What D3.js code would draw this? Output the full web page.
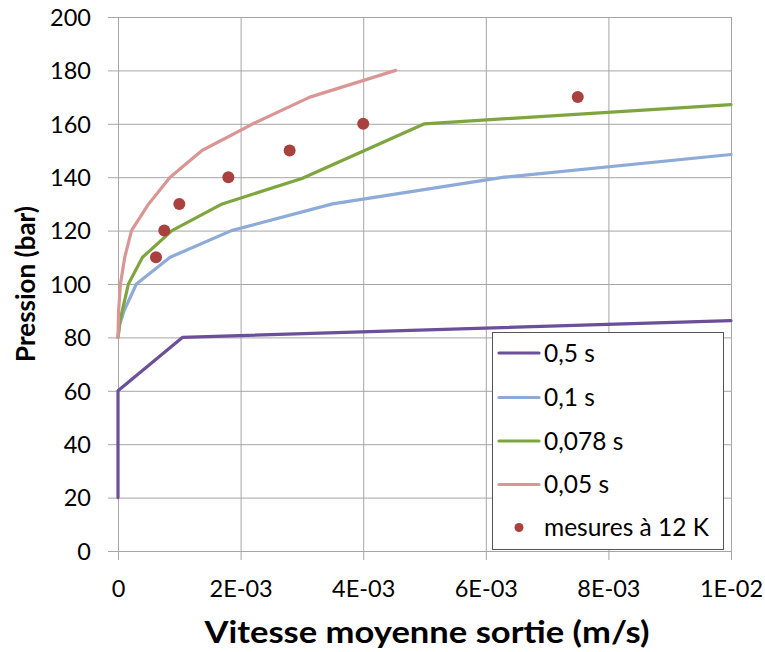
<!DOCTYPE html>
<html>
<head>
<meta charset="utf-8">
<script src="https://cdn.jsdelivr.net/npm/d3@7/dist/d3.min.js"></script>
<style>
  html, body { margin: 0; padding: 0; background: #fff; }
  svg { display: block; font-family: Lato, "Open Sans", sans-serif; }
</style>
</head>
<body>
<svg id="chart" width="765" height="652"></svg>
<script>
// ---- data ----
const seriesNames = ["0,5 s", "0,1 s", "0,078 s", "0,05 s"];
const seriesColors = ["#6c4f99", "#8eaad8", "#7ea53e", "#d99694"];

const s05x = [0, 0, 0.00105, 0.01];
const s05y = [20, 60, 80, 86.3];

const s01x = [0, 0.00003, 0.0001, 0.0003, 0.00085, 0.00185, 0.0035, 0.0063, 0.01];
const s01y = [80, 85, 90, 100, 110, 120, 130, 140, 148.5];

const s078x = [0, 0.00003, 0.00007, 0.00017, 0.0004, 0.00088, 0.0017, 0.003, 0.005, 0.01];
const s078y = [80, 86, 90, 100, 110, 120, 130, 139.5, 160, 167.2];

const s005x = [0, 0.00001, 0.00004, 0.00011, 0.00022, 0.0005, 0.00085, 0.00137, 0.0022, 0.00313, 0.00453];
const s005y = [80, 90, 100, 110, 120, 130, 140, 150, 160, 170, 180];

const mesX = [0.00062, 0.000755, 0.001, 0.0018, 0.0028, 0.004, 0.0075];
const mesY = [110, 120, 130, 140, 150, 160, 170];
const mesName = "mesures à 12 K";
const mesColor = "#a9423e";

const xTickValues = [0, 0.002, 0.004, 0.006, 0.008, 0.01];
const xTickLabels = ["0", "2E-03", "4E-03", "6E-03", "8E-03", "1E-02"];
const yTickValues = [0, 20, 40, 60, 80, 100, 120, 140, 160, 180, 200];

const xTitle = "Vitesse moyenne sortie (m/s)";
const yTitle = "Pression (bar)";

// ---- layout ----
const svg = d3.select("#chart");
const plot = { left: 118, right: 731, top: 17, bottom: 551 };
const x = d3.scaleLinear().domain([0, 0.01]).range([plot.left, plot.right]);
const y = d3.scaleLinear().domain([0, 200]).range([plot.bottom, plot.top]);
const gridColor = "#a6a6a6";

const xAxis = d3.axisBottom(x).tickValues(xTickValues)
  .tickFormat((d, i) => xTickLabels[i]).tickSizeInner(-(plot.bottom - plot.top)).tickSizeOuter(0).tickPadding(0);
const yAxis = d3.axisLeft(y).tickValues(yTickValues)
  .tickSizeInner(-(plot.right - plot.left)).tickSizeOuter(0).tickPadding(0);

const gx = svg.append("g").attr("transform", `translate(0,${plot.bottom})`).call(xAxis);
gx.select(".domain").remove();
gx.selectAll(".tick line").attr("stroke", gridColor).attr("y2", -(plot.bottom - plot.top)).attr("y1", 9);
gx.selectAll(".tick text").attr("y", 46).attr("dy", 0)
  .attr("fill", "#000").attr("font-size", 23.5).attr("font-family", "Lato, sans-serif");

const gy = svg.append("g").attr("transform", `translate(${plot.left},0)`).call(yAxis);
gy.select(".domain").remove();
gy.selectAll(".tick line").attr("stroke", gridColor).attr("x1", -10).attr("x2", plot.right - plot.left);
gy.selectAll(".tick text").attr("x", -27).attr("dy", "0.35em")
  .attr("fill", "#000").attr("font-size", 23.5).attr("font-family", "Lato, sans-serif");

// ---- series ----
const series = [
  { xs: s05x, ys: s05y },
  { xs: s01x, ys: s01y },
  { xs: s078x, ys: s078y },
  { xs: s005x, ys: s005y }
];
const line = d3.line().x(d => x(d[0])).y(d => y(d[1]));
series.forEach((s, i) => {
  const pts = s.xs.map((v, j) => [v, s.ys[j]]);
  svg.append("path").datum(pts)
    .attr("d", line)
    .attr("fill", "none")
    .attr("stroke", seriesColors[i])
    .attr("stroke-width", 3.2)
    .attr("stroke-linejoin", "round")
    .attr("stroke-linecap", "round");
});

svg.append("g").selectAll("circle")
  .data(mesX.map((v, j) => [v, mesY[j]]))
  .join("circle")
  .attr("cx", d => x(d[0]))
  .attr("cy", d => y(d[1]))
  .attr("r", 6)
  .attr("fill", mesColor);

// ---- legend ----
const lg = svg.append("g");
lg.append("rect").attr("x", 492.5).attr("y", 332.5).attr("width", 231).attr("height", 217)
  .attr("fill", "#fff").attr("stroke", "#555").attr("stroke-width", 1);
const rowY = [353, 397.5, 441, 484.5, 527.5];
seriesNames.forEach((n, i) => {
  lg.append("line").attr("x1", 499).attr("x2", 539).attr("y1", rowY[i]).attr("y2", rowY[i])
    .attr("stroke", seriesColors[i]).attr("stroke-width", 3.2).attr("stroke-linecap", "round");
  lg.append("text").attr("x", 544).attr("y", rowY[i]).attr("dy", "0.35em")
    .attr("font-size", 24.5).attr("fill", "#000").text(n);
});
lg.append("circle").attr("cx", 519).attr("cy", rowY[4]).attr("r", 4.5).attr("fill", mesColor);
lg.append("text").attr("x", 544).attr("y", rowY[4]).attr("dy", "0.35em")
  .attr("font-size", 24.5).attr("fill", "#000").text(mesName);

// ---- titles ----
svg.append("text").attr("x", 427).attr("y", 643)
  .attr("text-anchor", "middle").attr("font-size", 30).attr("font-weight", "bold")
  .attr("textLength", 445).attr("lengthAdjust", "spacingAndGlyphs")
  .attr("fill", "#000").text(xTitle);
svg.append("text")
  .attr("transform", `translate(35,${(plot.top + plot.bottom) / 2}) rotate(-90)`)
  .attr("text-anchor", "middle").attr("font-size", 26).attr("font-weight", "bold")
  .attr("fill", "#000").text(yTitle);
</script>
</body>
</html>
